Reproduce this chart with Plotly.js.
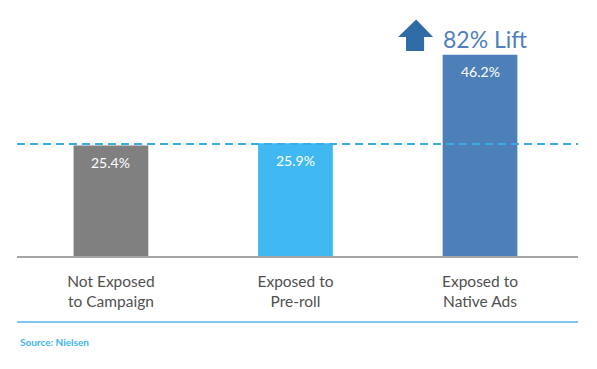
<!DOCTYPE html>
<html>
<head>
<meta charset="utf-8">
<script src="https://cdn.plot.ly/plotly-3.0.1.min.js"></script>
<style>html,body{margin:0;padding:0;background:#fff;}#chart{width:597px;height:369px;}</style>
</head>
<body>
<div id="chart"></div>
<script>
const categories = ["Not Exposed<br>to Campaign", "Exposed to<br>Pre-roll", "Exposed to<br>Native Ads"];
const values = [25.4, 25.9, 46.2];
const valueLabels = ["25.4%", "25.9%", "46.2%"];
const barColors = ["#808080", "#40b9f2", "#4d7fb8"];
const referenceLevel = 25.7;
const liftLabel = "82% Lift";
const sourceText = "Source: Nielsen";

const xs = categories.map((c, i) => i);

const trace = {
  type: "bar",
  x: xs,
  y: values,
  width: 0.405,
  marker: {color: barColors, line: {width: 0}},
  hoverinfo: "none"
};

const valueAnnotations = values.map((v, i) => ({
  xref: "x", yref: "y", x: xs[i], y: v, yshift: -17, yanchor: "middle",
  text: valueLabels[i], showarrow: false,
  font: {family: "Lato, 'Open Sans', sans-serif", size: 14, color: "#ffffff"}
}));

const layout = {
  width: 597,
  height: 369,
  margin: {l: 17, r: 19, t: 17, b: 113},
  paper_bgcolor: "#ffffff",
  plot_bgcolor: "#ffffff",
  showlegend: false,
  font: {family: "Lato, 'Open Sans', sans-serif"},
  xaxis: {
    range: [-0.509, 2.531],
    tickvals: xs,
    ticktext: categories,
    ticks: "",
    ticklabelstandoff: 10,
    showgrid: false,
    zeroline: false,
    showline: true,
    linecolor: "#a6a6a6",
    linewidth: 2,
    tickfont: {family: "Lato, 'Open Sans', sans-serif", size: 15.5, color: "#505050"},
    fixedrange: true
  },
  yaxis: {
    range: [0, 54.9],
    visible: false,
    showgrid: false,
    zeroline: false,
    fixedrange: true
  },
  shapes: [
    {type: "line", xref: "paper", yref: "y", x0: 0, x1: 1, y0: referenceLevel, y1: referenceLevel,
     line: {color: "#3aaae3", width: 2, dash: "8px,5px"}, layer: "above"},
    {type: "line", xref: "paper", yref: "paper", x0: 0, x1: 1, y0: -0.276, y1: -0.276,
     line: {color: "#7cc8ee", width: 2}},
    {type: "path", xref: "x", yref: "y",
     path: "M 1.556 50.3 L 1.654 54.3 L 1.746 50.3 L 1.697 50.3 L 1.697 47.1 L 1.599 47.1 L 1.599 50.3 Z",
     fillcolor: "#2f6ca6", line: {width: 0}}
  ],
  annotations: valueAnnotations.concat([
    {xref: "x", yref: "y", x: 2.025, y: 49.9, text: liftLabel, showarrow: false,
     font: {family: "Lato, 'Open Sans', sans-serif", size: 23, color: "#4f81bd"}},
    {xref: "paper", yref: "paper", x: 0.002, y: -0.36, xanchor: "left", yanchor: "middle",
     text: sourceText, showarrow: false,
     font: {family: "Lato, 'Open Sans', sans-serif", size: 10, weight: 700, color: "#3db4ee"}}
  ])
};

Plotly.newPlot("chart", [trace], layout, {displayModeBar: false, staticPlot: true});
</script>
</body>
</html>
